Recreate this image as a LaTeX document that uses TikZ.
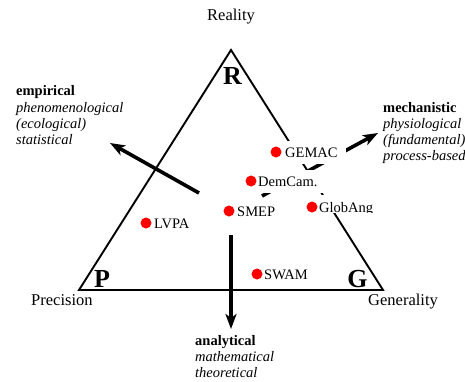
\documentclass[tikz,border=0pt]{standalone}
\usepackage{fontspec}
\setmainfont{Liberation Serif}
\usetikzlibrary{arrows.meta}
\begin{document}
\begin{tikzpicture}[x=1pt,y=-1pt,
  edge/.style={line width=1.9pt,line join=miter},
  bigarrow/.style={line width=3.6pt,-{Stealth[length=15pt,width=11pt,inset=4pt]}},
  corner/.style={anchor=base,font=\fontsize{26}{26}\selectfont\bfseries,inner sep=0pt},
  axislabel/.style={anchor=base west,font=\fontsize{16.5}{18}\selectfont,inner sep=0pt},
  txt/.style={anchor=base west,font=\fontsize{14.5}{16}\selectfont,inner sep=0pt},
  lab/.style={anchor=base west,font=\fontsize{14.5}{16}\selectfont,fill=white,inner xsep=8pt,inner ysep=6.5pt},
  dot/.style={circle,fill=red,inner sep=0pt,minimum size=11pt}]
\useasboundingbox (0,0) rectangle (465,381);
% triangle
\coordinate (R) at (231,50);
\coordinate (P) at (79,290);
\coordinate (G) at (383,290);
\draw[edge] (R) -- (G) -- (P) -- cycle;
% arrows
\coordinate (a1s) at (199,193); \coordinate (a1e) at (110,143);
\coordinate (a2s) at (262,196); \coordinate (a2e) at (378,133);
\coordinate (a3s) at (231,235); \coordinate (a3e) at (231,329);
\draw[bigarrow] (a1s) -- (a1e);
\draw[bigarrow] (a2s) -- (a2e);
\draw[bigarrow] (a3s) -- (a3e);
% corner letters
\node[corner] (lR) at (232.5,84) {R};
\node[corner] (lP) at (102,287) {P};
\node[corner] (lG) at (357.5,287) {G};
% axis labels
\node[axislabel] (reality) at (207,20) {Reality};
\node[axislabel] (precision) at (31,305) {Precision};
\node[axislabel] (generality) at (368,305) {Generality};
% arrow texts
\node[txt] (emp1) at (16,95) {\textbf{empirical}};
\node[txt] (emp2) at (16,112) {\textit{phenomenological}};
\node[txt] (emp3) at (16,128) {\textit{(ecological)}};
\node[txt] (emp4) at (16,144) {\textit{statistical}};
\node[txt] (mec1) at (383,112) {\textbf{mechanistic}};
\node[txt] (mec2) at (383,128) {\textit{physiological}};
\node[txt] (mec3) at (383,144) {\textit{(fundamental)}};
\node[txt] (mec4) at (383,160) {\textit{process-based}};
\node[txt] (ana1) at (195,345) {\textbf{analytical}};
\node[txt] (ana2) at (195,361) {\textit{mathematical}};
\node[txt] (ana3) at (195,377) {\textit{theoretical}};
% model labels
\node[lab] (tGEMAC) at (277,157) {GEMAC};
\node[lab] (tDem) at (250,186) {DemCam.};
\node[lab] (tSMEP) at (229,216) {SMEP};
\begin{scope}
  \clip (0,0) rectangle (465,212.5);
  \node[lab] (tGlob) at (311,212) {GlobAng};
\end{scope}
\node[lab] (tLVPA) at (146,228) {LVPA};
\node[lab] (tSWAM) at (256,279) {SWAM};
% dots
\node[dot] (dGEMAC) at (276,152) {};
\node[dot] (dDem) at (251,181) {};
\node[dot] (dSMEP) at (229,211) {};
\node[dot] (dGlob) at (312,207) {};
\node[dot] (dLVPA) at (146,223) {};
\node[dot] (dSWAM) at (257,274) {};
\end{tikzpicture}
\end{document}
